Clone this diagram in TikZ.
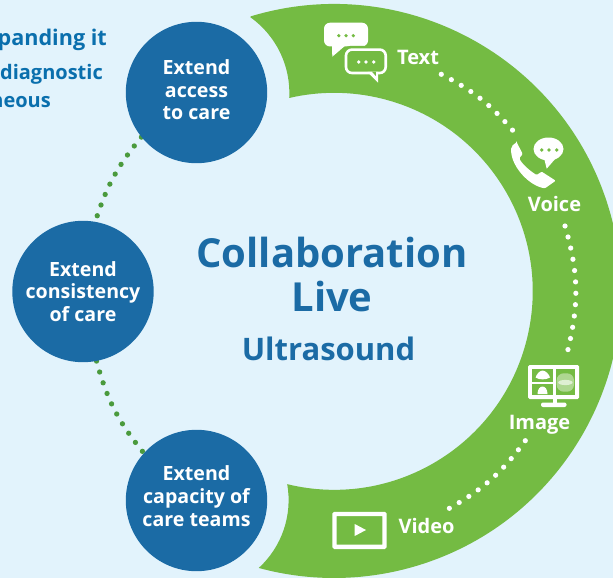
\documentclass[tikz,border=0pt]{standalone}
\usepackage{fontspec}
\setmainfont{Open Sans}
\pgfdeclarelayer{under}
\pgfsetlayers{under,main}
\definecolor{bgblue}{HTML}{E2F3FC}
\definecolor{ringgreen}{HTML}{74BB43}
\definecolor{discblue}{HTML}{1B6BA5}
\definecolor{dotgreen}{HTML}{4A9A3D}
\definecolor{cutblue}{HTML}{0A6FAD}
\tikzset{
  disc/.style={circle,fill=discblue,text=white,minimum size=141.4pt,inner sep=0pt,align=center,font=\fontsize{19.6}{22.7}\selectfont\bfseries},
  medialabel/.style={text=white,inner sep=0pt,anchor=base,font=\fontsize{20}{24}\selectfont\bfseries},
  cuttext/.style={text=cutblue,inner sep=0pt,anchor=base east,font=\fontsize{20}{24}\selectfont\bfseries},
  greendots/.style={draw=dotgreen,line width=5.3pt,line cap=round,dash pattern=on 0pt off 11.35pt},
  whitedots/.style={draw=white,line width=5.2pt,line cap=round,dash pattern=on 0pt off 11.4pt},
  iconfill/.style={fill=white,draw=none},
  pane/.style={fill=ringgreen,draw=none}
}
\begin{document}
\begin{tikzpicture}[x=1pt,y=-1pt]
\useasboundingbox (0,0) rectangle (613,578);
\begin{pgfonlayer}{under}
\fill[bgblue] (0,0) rectangle (613,578);
\fill[ringgreen] (334,291) ++(-106.85:287)
  arc[start angle=-106.85,end angle=105.2,radius=287]
  arc[start angle=47.5,end angle=-10,radius=92]
  arc[start angle=103.7,end angle=-103.1,radius=198.5]
  arc[start angle=3.1,end angle=-54.5,radius=93] -- cycle;
\end{pgfonlayer}

\node[disc] (ctop) at (196.5,92.5) {Extend\\access\\to care\\[-17.2pt]\mbox{}};
\node[disc] (cmid) at (83,291.5) {Extend\\consistency\\of care};
\node[disc] (cbot) at (196.5,500.5) {Extend\\capacity of\\care teams\\[-13.7pt]\mbox{}};

\begin{pgfonlayer}{under}
\draw[greendots] (ctop.219) to[bend right=11] (cmid.80);
\draw[greendots] (cmid.-79.5) to[bend right=12] (cbot.138);
\end{pgfonlayer}

\node[cuttext,font=\fontsize{21.6}{24}\selectfont\bfseries] (cut1) at (107,46) {panding it};
\node[cuttext] (cut2) at (103,79) {diagnostic};
\node[cuttext] (cut3) at (51,107) {neous};

\node[text=discblue,inner sep=0pt,align=center,font=\fontsize{40}{44}\selectfont\bfseries] (title) at (332,274) {Collaboration\\Live};
\node[text=discblue,inner sep=0pt,anchor=base,font=\fontsize{31}{36}\selectfont\bfseries] (sub) at (328.5,360) {Ultrasound};

\node[medialabel] (ltext) at (418,64) {Text};
\node[medialabel] (lvoice) at (554.5,211) {Voice};
\node[medialabel] (limage) at (539.5,429) {Image};
\node[medialabel] (lvideo) at (426.5,533) {Video};

\coordinate (t1) at (441.3,74.3);
\coordinate (t2) at (513,130.7);
\coordinate (v1) at (565,226);
\coordinate (v2) at (567.7,350.7);
\coordinate (i1) at (525.3,440.7);
\coordinate (i2) at (448.7,508.7);
\draw[whitedots] (t1) to[bend left=11] (t2);
\draw[whitedots] (v1) to[bend left=15] (v2);
\draw[whitedots] (i1) to[bend left=12] (i2);

% text icon
\fill[iconfill,rounded corners=6pt] (324,22.7) rectangle (368,46.5);
\fill[iconfill] (332,44) -- (332.3,56.7) -- (346,45) -- cycle;
\fill[ringgreen] (338.8,35.7) circle (1.8) (346,35.7) circle (1.8) (353.3,35.7) circle (1.8);
\fill[ringgreen,rounded corners=7pt] (343,46) rectangle (388.6,76);
\draw[white,line width=2.6pt,rounded corners=6pt] (346,49.6) rectangle (385.7,73);
\fill[iconfill] (367.5,72) -- (378,82.6) -- (378,72) -- cycle;
\fill[ringgreen] (372,71.7) -- (375.8,76) -- (375.8,71.7) -- cycle;
\fill[white] (358.7,62) circle (1.8) (366,62) circle (1.8) (373.7,62) circle (1.8);

% voice icon
\fill[iconfill] (548.5,149) ellipse [x radius=15,y radius=11.5];
\fill[iconfill] (544,158) -- (546.7,168.7) -- (556,158) -- cycle;
\fill[ringgreen] (541.7,150) circle (1.9) (549,150) circle (1.9) (556.7,150) circle (1.9);
\fill[iconfill,rounded corners=1pt] (516.7,142.3) -- (522.7,154) -- (519.3,158.3)
  .. controls (522,164) and (530,171) .. (536.7,175) -- (541.7,171.7) -- (555.7,180.7) -- (545,188.3)
  .. controls (530,186) and (512,168) .. (511,150) .. controls (511,146) and (514,144) .. (516.7,142.3) -- cycle;

% image icon
\fill[iconfill,rounded corners=1.5pt] (528,365) rectangle (579,399);
\fill[iconfill] (553,398) rectangle (557,404);
\fill[iconfill,rounded corners=2pt] (541,402.5) rectangle (566.5,407);
\fill[pane] (532,369) rectangle (552.8,381.5);
\fill[pane] (532,384) rectangle (552.8,395);
\fill[pane] (556.2,369) rectangle (575,395);
\fill[iconfill] (542.5,370.5) .. controls (546,371) and (549,374) .. (550,377.5)
  .. controls (546,380) and (539,380) .. (535.5,377.5) .. controls (537,374) and (539,371) .. (542.5,370.5) -- cycle;
\fill[iconfill] (537.5,394) .. controls (537.5,389) and (540,386.5) .. (542.5,386.5)
  .. controls (545,386.5) and (547.5,389) .. (547.5,394) -- cycle;
\fill[white,opacity=.42,rounded corners=7pt] (556.7,373.3) rectangle (574,391.7);
\fill[white,opacity=.6] (565.4,382.5) ellipse [x radius=7.2,y radius=2.6];

% video icon
\draw[white,line width=4.4pt,rounded corners=.5pt] (334.5,514) rectangle (384.5,546.8);
\fill[iconfill] (354.7,524) -- (354.7,536) -- (366,530) -- cycle;
\end{tikzpicture}
\end{document}
